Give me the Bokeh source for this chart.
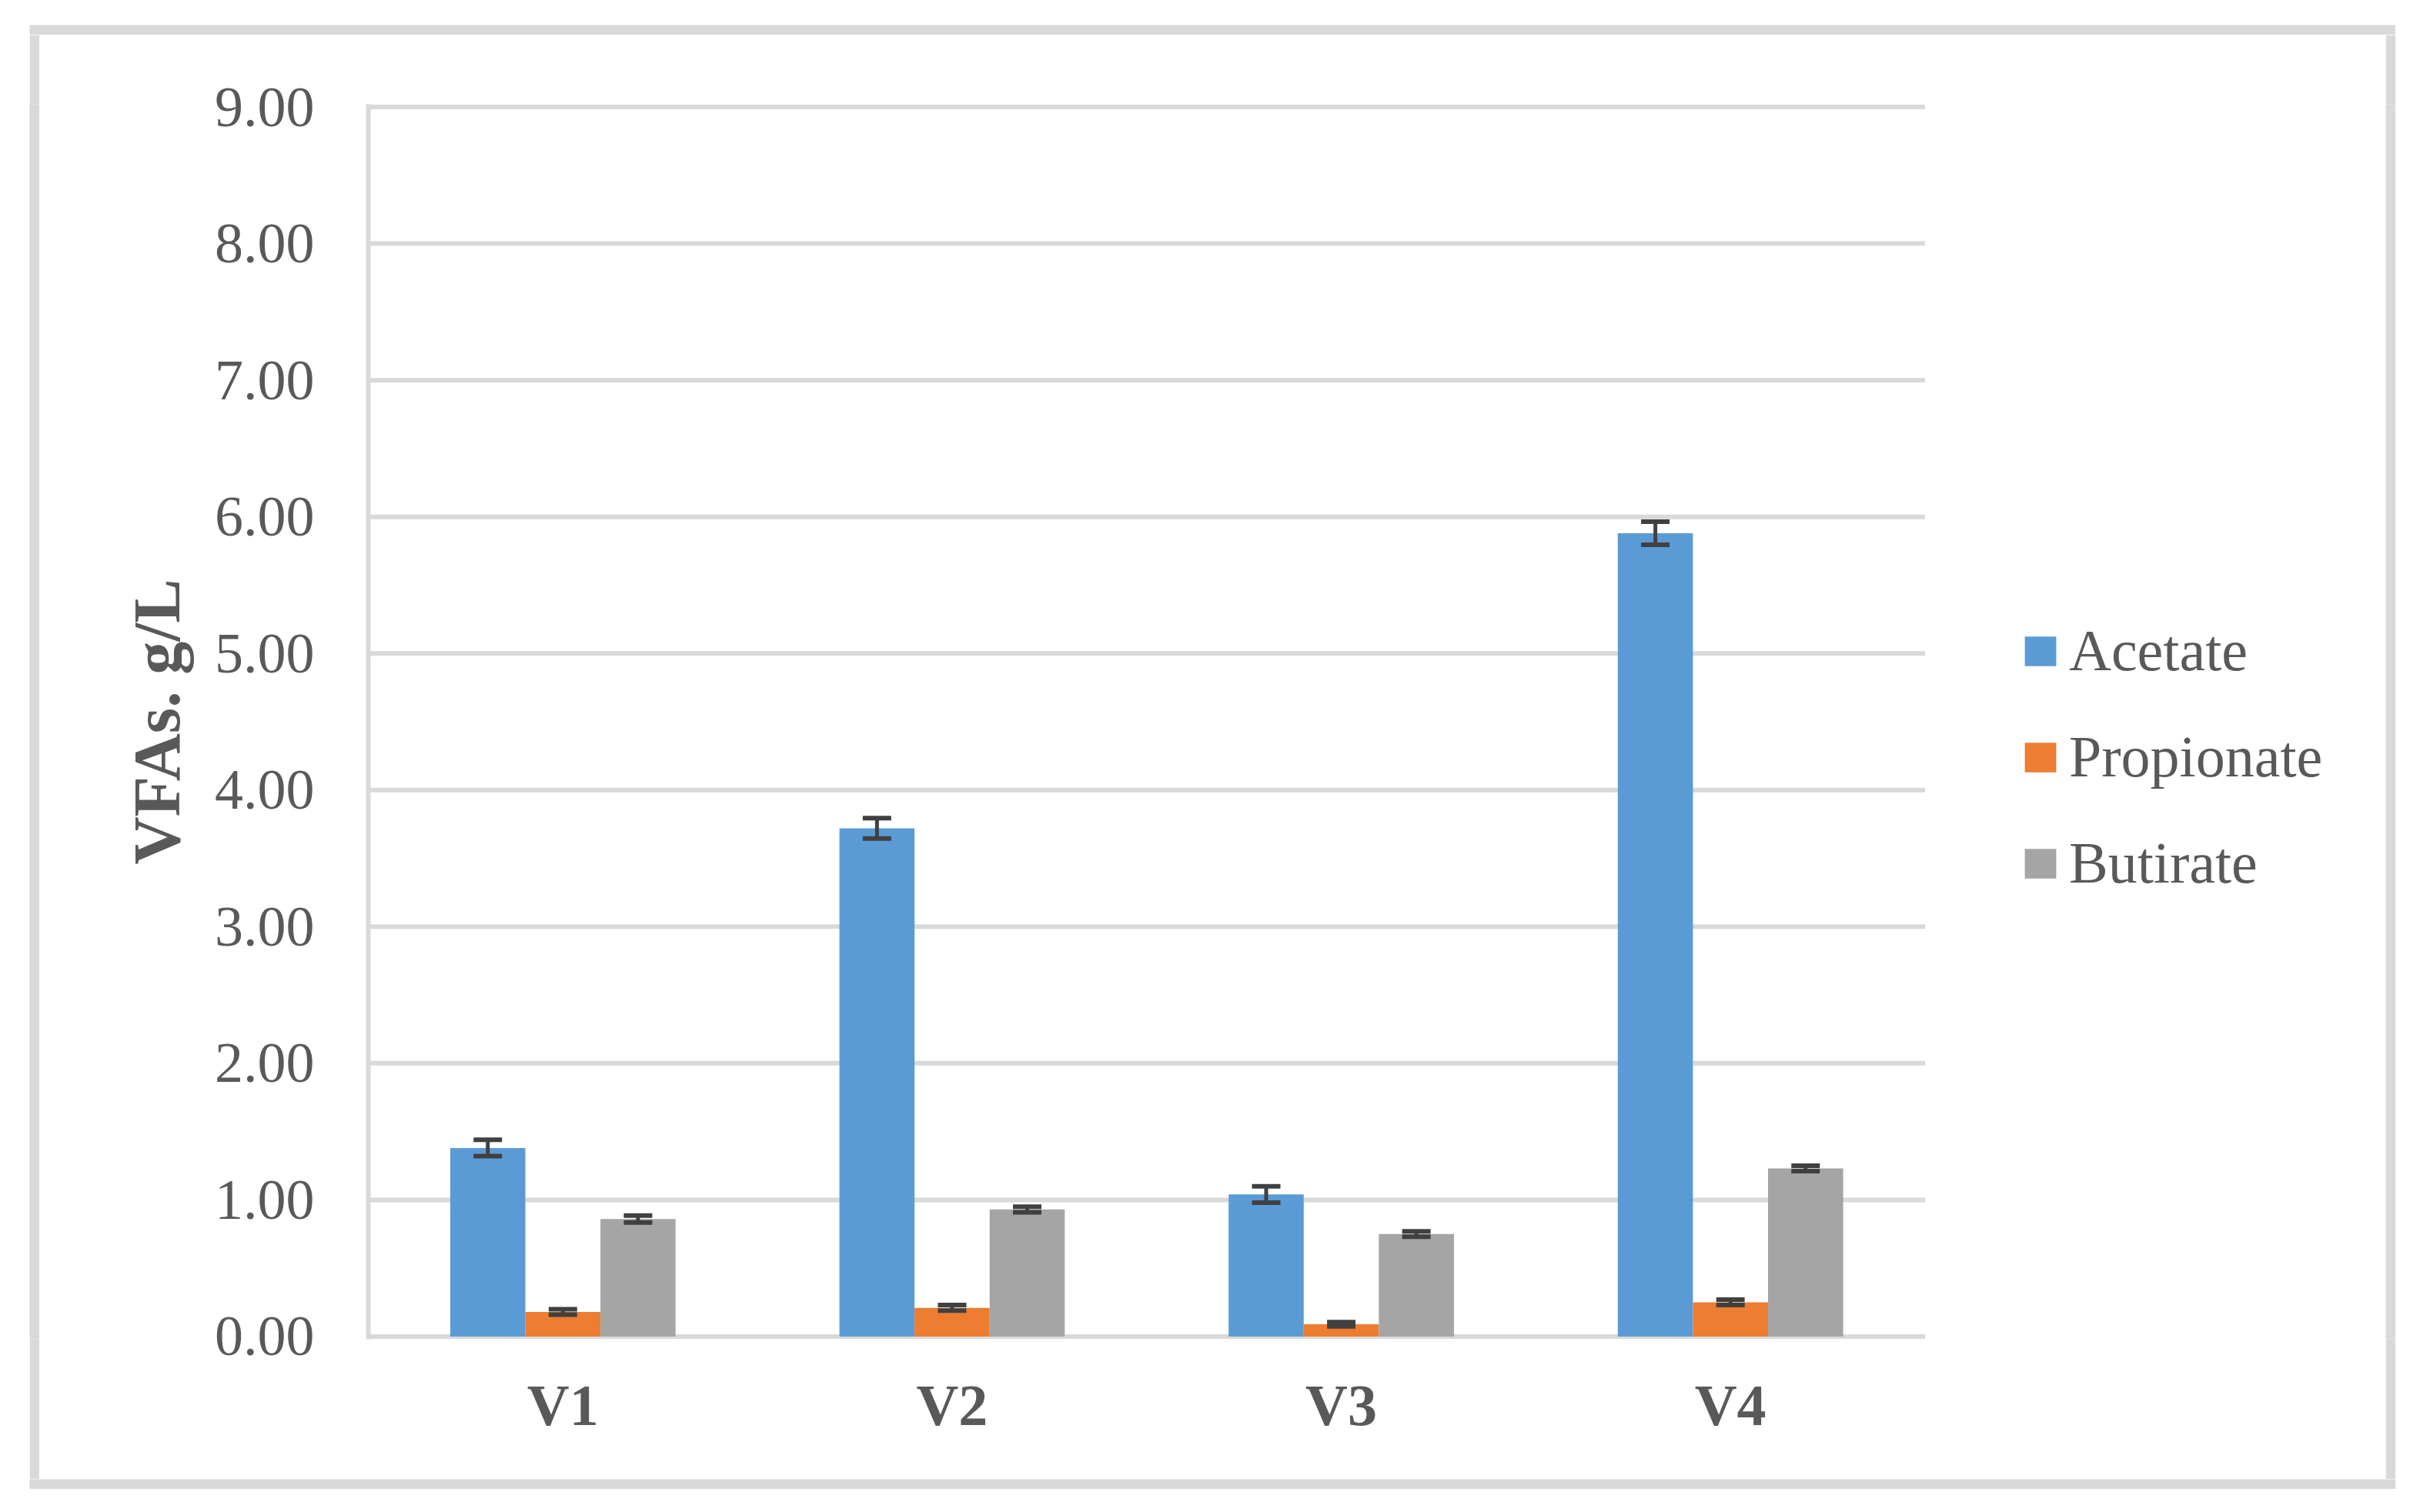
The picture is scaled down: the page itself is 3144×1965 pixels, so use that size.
from bokeh.plotting import figure
from bokeh.models import (ColumnDataSource, Range1d, FixedTicker, Spacer,
                          NumeralTickFormatter, Whisker, TeeHead, Legend, LegendItem)
from bokeh.layouts import column, row
from bokeh.transform import dodge
from bokeh.embed import file_html
from bokeh.resources import INLINE

# ---- data ----
categories = ["V1", "V2", "V3", "V4"]
series_names = ["Acetate", "Propionate", "Butirate"]
acetate = [1.38, 3.72, 1.04, 5.88]
acetate_err = [0.06, 0.075, 0.06, 0.085]
propionate = [0.18, 0.21, 0.09, 0.25]
propionate_err = [0.02, 0.02, 0.015, 0.02]
butirate = [0.86, 0.93, 0.75, 1.23]
butirate_err = [0.025, 0.02, 0.02, 0.02]
y_ticks = [0, 1, 2, 3, 4, 5, 6, 7, 8, 9]

colors = ["#5B9BD5", "#ED7D31", "#A5A5A5"]
FONT = "Liberation Serif"
TXT = "#595959"
GRID = "#D9D9D9"

# ---- layout (pixels) ----
W, H = 3048, 1877
BORDER = 13
B_LEFT, B_RIGHT, B_TOP, B_BOTTOM = 427, 0, 90, 182
PLOT_W = 2022.5                      # width of the plotting area holding the categories
FRAME_W = W - B_LEFT - B_RIGHT
n = len(categories)
x_end = n * FRAME_W / PLOT_W

p = figure(width=W, height=H, x_range=Range1d(0, x_end),
           y_range=Range1d(-0.02, 9.02), output_backend="svg",
           toolbar_location=None, tools="",
           min_border_left=B_LEFT, min_border_right=B_RIGHT,
           min_border_top=B_TOP, min_border_bottom=B_BOTTOM)
p.outline_line_color = None
p.background_fill_color = "white"
p.border_fill_color = "white"

xc = [i + 0.5 for i in range(n)]
src = ColumnDataSource(dict(
    xc=xc,
    a=acetate, a_lo=[v - e for v, e in zip(acetate, acetate_err)], a_hi=[v + e for v, e in zip(acetate, acetate_err)],
    p=propionate, p_lo=[v - e for v, e in zip(propionate, propionate_err)], p_hi=[v + e for v, e in zip(propionate, propionate_err)],
    b=butirate, b_lo=[v - e for v, e in zip(butirate, butirate_err)], b_hi=[v + e for v, e in zip(butirate, butirate_err)],
))

# horizontal gridlines limited to the category area
p.segment(x0=0, x1=n, y0=y_ticks, y1=y_ticks, line_color=GRID, line_width=6)

bw = 0.193
offsets = [-bw, 0.0, bw]
keys = ["a", "p", "b"]
renderers = []
for key, off, col in zip(keys, offsets, colors):
    r = p.vbar(x=dodge("xc", off), top=key, bottom=0, width=bw,
               source=src, fill_color=col, line_color=None)
    renderers.append(r)

for key, off in zip(keys, offsets):
    wk = Whisker(base=dodge("xc", off), upper=key + "_hi", lower=key + "_lo",
                 source=src, line_color="#404040", line_width=5, level="overlay",
                 upper_head=TeeHead(size=37, line_color="#404040", line_width=6),
                 lower_head=TeeHead(size=37, line_color="#404040", line_width=6))
    p.add_layout(wk)

# axes
p.yaxis.ticker = FixedTicker(ticks=y_ticks)
p.yaxis.formatter = NumeralTickFormatter(format="0.00")
p.yaxis.axis_line_color = GRID
p.yaxis.axis_line_width = 6
p.yaxis.major_tick_line_color = None
p.yaxis.minor_tick_line_color = None
p.yaxis.major_label_text_font = FONT
p.yaxis.major_label_text_font_size = "74px"
p.yaxis.major_label_text_color = TXT
p.yaxis.major_label_standoff = 64
p.yaxis.axis_label = "VFAs. g/L"
p.yaxis.axis_label_text_font = FONT
p.yaxis.axis_label_text_font_style = "bold"
p.yaxis.axis_label_text_font_size = "86px"
p.yaxis.axis_label_text_color = TXT
p.yaxis.axis_label_standoff = 24

p.xaxis.ticker = FixedTicker(ticks=xc)
p.xaxis.major_label_overrides = {x: c for x, c in zip(xc, categories)}
p.xaxis.axis_line_color = None
p.xaxis.major_tick_line_color = None
p.xaxis.minor_tick_line_color = None
p.xaxis.major_label_text_font = FONT
p.xaxis.major_label_text_font_style = "bold"
p.xaxis.major_label_text_font_size = "76px"
p.xaxis.major_label_text_color = TXT
p.xaxis.major_label_standoff = 37

p.xgrid.grid_line_color = None
p.ygrid.grid_line_color = None

# legend inside the (extended) frame, right of the category area
legend = Legend(items=[LegendItem(label=nm, renderers=[r]) for nm, r in zip(series_names, renderers)],
                location=(2147, 575), orientation="vertical",
                label_text_font=FONT, label_text_font_size="76px", label_text_color=TXT,
                glyph_width=51, glyph_height=48, label_standoff=12, spacing=51,
                padding=0, margin=0, border_line_color=None, background_fill_alpha=0)
p.add_layout(legend, "center")


# ---- light grey chart border, built from thin plain figures around the chart ----
def strip(w, h):
    s = figure(width=w, height=h, output_backend="svg", toolbar_location=None, tools="",
               x_axis_location=None, y_axis_location=None, min_border=0)
    s.outline_line_color = None
    s.background_fill_color = GRID
    s.border_fill_color = GRID
    s.xgrid.grid_line_color = None
    s.ygrid.grid_line_color = None
    return s


top = strip(W + 2 * BORDER, BORDER)
bottom = strip(W + 2 * BORDER, BORDER)
left = strip(BORDER, H)
right = strip(BORDER, H)

boxed = column(top, row(left, p, right), bottom)
layout = column(Spacer(width=10, height=32), row(Spacer(width=38, height=10), boxed))

open("out.html", "w").write(file_html(layout, INLINE))
